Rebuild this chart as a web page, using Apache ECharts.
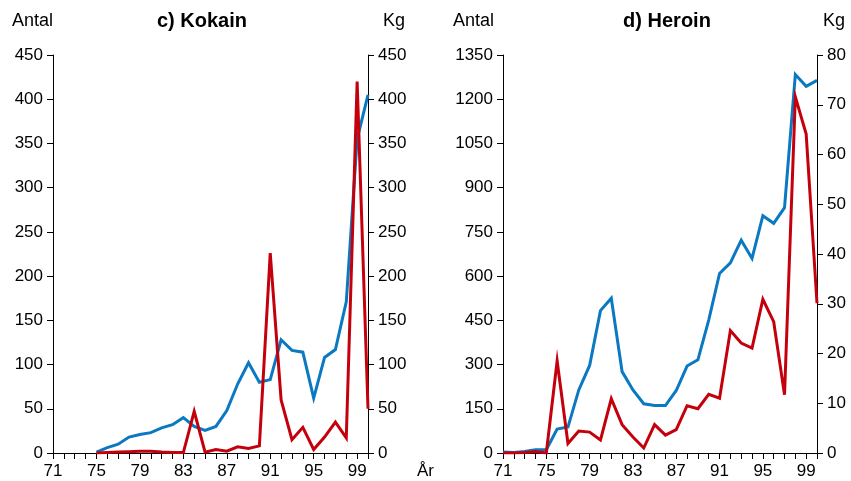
<!DOCTYPE html>
<html>
<head>
<meta charset="utf-8">
<script src="https://cdn.jsdelivr.net/npm/echarts@6/dist/echarts.min.js"></script>
<style>
html,body{margin:0;padding:0;background:#fff;}
#chart{width:851px;height:481px;}
</style>
</head>
<body>
<div id="chart"></div>
<script>
const years = [1971,1972,1973,1974,1975,1976,1977,1978,1979,1980,1981,1982,1983,1984,1985,1986,1987,1988,1989,1990,1991,1992,1993,1994,1995,1996,1997,1998,1999,2000];
const xTickLabels = ['71','75','79','83','87','91','95','99'];

const kokainAntal = [null,null,null,null,1,6,10,18,21,23,28.5,32,40,30,25.5,30,48,78,102,80,83,128,116,114,62,108,117,171,355,405];
const kokainKg    = [null,null,null,null,0,0.5,1,1.5,2,2,1,0.5,0.5,47,1,4,2,7,5,8,226,60,15,29,4,18,35,17,420,50];

const heroinAntal = [3,2,5,11,11,81,88,214,297,483,525,276,214,167,161,161,212,295,316,451,609,645,722,660,805,779,832,1284,1244,1264];
const heroinKg    = [0,0,0.1,0.3,0,18.5,1.9,4.4,4.2,2.6,10.9,5.7,3.2,1.0,5.7,3.6,4.7,9.5,8.9,11.8,11.0,24.6,22.1,21.1,30.9,26.4,11.7,71.6,64.1,30.1];

const kokainAxis = {min:0, max:450, interval:50};
const heroinAntalAxis = {min:0, max:1350, interval:150};
const heroinKgAxis = {min:0, max:80, interval:10};

const BLUE = '#0a79c2';
const RED = '#c4000c';
const FONT = '"Liberation Sans", Arial, sans-serif';

function pairs(vals){ return years.map((y,i)=>[y, vals[i]]); }

function xAxis(gridIndex){
  return {
    type:'value', gridIndex, min:years[0], max:years[years.length-1], interval:1,
    axisLine:{show:true, lineStyle:{color:'#000', width:1}},
    axisTick:{show:true, length:6, lineStyle:{color:'#000'}},
    splitLine:{show:false},
    axisLabel:{
      margin:10, color:'#000', fontSize:17, fontFamily:FONT,
      formatter:v=>{ const s=String(v).slice(2); return xTickLabels.indexOf(s)>=0 ? s : ''; }
    }
  };
}
function yAxis(gridIndex, pos, cfg){
  return {
    type:'value', gridIndex, position:pos, min:cfg.min, max:cfg.max, interval:cfg.interval,
    axisLine:{show:true, lineStyle:{color:'#000', width:1}},
    axisTick:{show:true, length:6, lineStyle:{color:'#000'}},
    splitLine:{show:false},
    axisLabel:{margin:10, color:'#000', fontSize:17, fontFamily:FONT, formatter:v=>String(v)}
  };
}
function line(xi, yi, vals, color, z){
  return {
    type:'line', xAxisIndex:xi, yAxisIndex:yi, data:pairs(vals), showSymbol:false, symbol:'none',
    connectNulls:false, lineStyle:{color, width:3, join:'miter'}, z, animation:false
  };
}
function txt(text, x, y, opts){
  return {type:'text', x, y, style:Object.assign({text, fill:'#000', font:'18px '+FONT, textAlign:'left', textVerticalAlign:'middle'}, opts||{})};
}

const chart = echarts.init(document.getElementById('chart'), null, {renderer:'canvas'});
chart.setOption({
  backgroundColor:'#fff',
  animation:false,
  grid:[
    {left:53, top:55, width:315, height:398},
    {left:503, top:55, width:314, height:398}
  ],
  xAxis:[xAxis(0), xAxis(1)],
  yAxis:[
    yAxis(0,'left',kokainAxis),
    yAxis(0,'right',kokainAxis),
    yAxis(1,'left',heroinAntalAxis),
    yAxis(1,'right',heroinKgAxis)
  ],
  series:[
    line(0,0,kokainAntal,BLUE,2),
    line(0,1,kokainKg,RED,3),
    line(1,2,heroinAntal,BLUE,2),
    line(1,3,heroinKg,RED,3)
  ],
  graphic:[
    txt('Antal', 12, 21),
    txt('Kg', 383, 21),
    txt('c) Kokain', 202, 21, {font:'bold 20px '+FONT, textAlign:'center'}),
    txt('Antal', 453, 21),
    txt('Kg', 823, 21),
    txt('d) Heroin', 667, 21, {font:'bold 20px '+FONT, textAlign:'center'}),
    txt('År', 417, 471, {font:'17px '+FONT})
  ]
});
</script>
</body>
</html>
